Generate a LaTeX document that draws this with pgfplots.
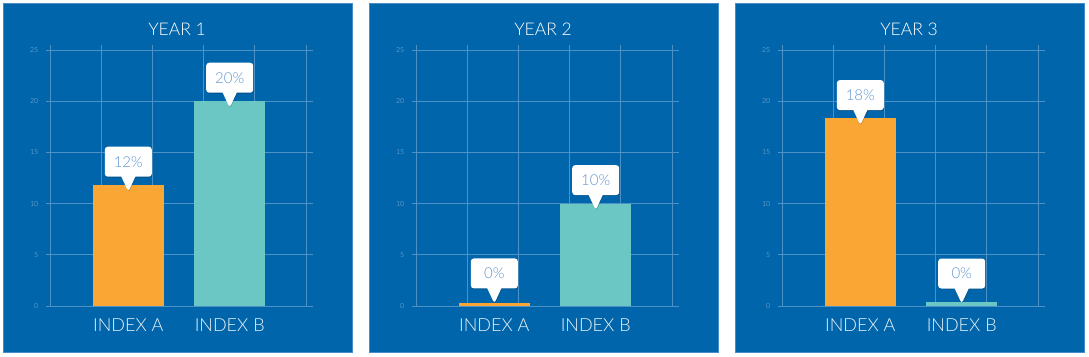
\documentclass[border=0pt]{standalone}
\usepackage{fontspec}
\setmainfont{Lato}[UprightFont={* Light}]
\usepackage{pgfplots}
\pgfplotsset{compat=1.18}
\usetikzlibrary{shapes.callouts,shadows}
\definecolor{bg}{RGB}{0,101,170}
\definecolor{bgedge}{RGB}{70,140,200}
\definecolor{gridc}{RGB}{77,146,198}
\definecolor{orangeb}{RGB}{249,166,52}
\definecolor{tealb}{RGB}{106,199,196}
\definecolor{ticklab}{RGB}{150,190,225}
\definecolor{bubtext}{RGB}{95,150,210}
\pgfplotsset{
  panel/.style={
    scale only axis, width=263pt, height=261pt,
    anchor=south west,
    xmin=0, xmax=5.137, ymin=0, ymax=25.49,
    axis line style={draw=none},
    xtick={1.53,3.51}, xticklabels={INDEX A, INDEX B},
    minor xtick={0,1,2,3,4,5},
    xminorgrids=true, xmajorgrids=false,
    ytick={0,5,...,25}, ymajorgrids=true,
    grid style={draw=gridc, line width=0.7pt},
    minor grid style={draw=gridc, line width=0.7pt},
    minor tick length=0pt, major tick length=4pt, tick align=outside,
    xtick style={draw=none}, ytick pos=left,
    ytick style={draw=gridc, line width=0.7pt},
    yticklabel style={font=\fontsize{7}{7}\selectfont, text=ticklab, anchor=east, inner sep=0pt, xshift=-7.5pt},
    xticklabel style={font=\fontsize{18}{18}\selectfont, text=white!92!bg, anchor=base, yshift=-21pt},
    title style={font=\fontsize{17.5}{17.5}\selectfont, text=white, at={(0.483,1)}, anchor=base, yshift=3pt},
    /pgf/number format/assume math mode=true,
    ybar, bar width=1.39, bar shift=0pt,
    nodes near coords, point meta=explicit symbolic,
    nodes near coords style={shape=rectangle callout, fill=white, text=bubtext,
      font=\fontsize{15}{15}\selectfont, minimum width=47pt, minimum height=30pt,
      inner sep=0pt, rounded corners=3pt, callout relative pointer={(0pt,-15pt)},
      callout pointer width=14pt, anchor=pointer,
      drop shadow={shadow xshift=0.5pt, shadow yshift=-0.8pt, opacity=0.2, fill=black}},
    clip=false
  }
}
\begin{document}
\begin{tikzpicture}[x=1pt,y=1pt]
\fill[white] (0,0) rectangle (1089,356);
\foreach \xo in {3,369,735}{
  \fill[bg] (\xo,3) rectangle (\xo+350,353);
  \draw[bgedge, line width=0.8pt] (\xo+0.4,3.4) rectangle (\xo+349.6,352.6);
}
\begin{axis}[panel, at={(50pt,50pt)}, title={YEAR 1}]
\addplot[fill=orangeb, draw=none, nodes near coords style={yshift=-7pt}] coordinates {(1.53,11.8) [12\%]};
\addplot[fill=tealb, draw=none, nodes near coords style={yshift=-7pt}] coordinates {(3.51,20) [20\%]};
\end{axis}
\begin{axis}[panel, at={(416pt,50pt)}, title={YEAR 2}]
\addplot[fill=orangeb, draw=none, nodes near coords style={yshift=-1.4pt}] coordinates {(1.53,0.34) [0\%]};
\addplot[fill=tealb, draw=none, nodes near coords style={yshift=-7pt}] coordinates {(3.51,10) [10\%]};
\end{axis}
\begin{axis}[panel, at={(782pt,50pt)}, title={YEAR 3}]
\addplot[fill=orangeb, draw=none, nodes near coords style={yshift=-8pt}] coordinates {(1.53,18.4) [18\%]};
\addplot[fill=tealb, draw=none, nodes near coords style={yshift=-1.6pt}] coordinates {(3.51,0.35) [0\%]};
\end{axis}
\end{tikzpicture}
\end{document}
